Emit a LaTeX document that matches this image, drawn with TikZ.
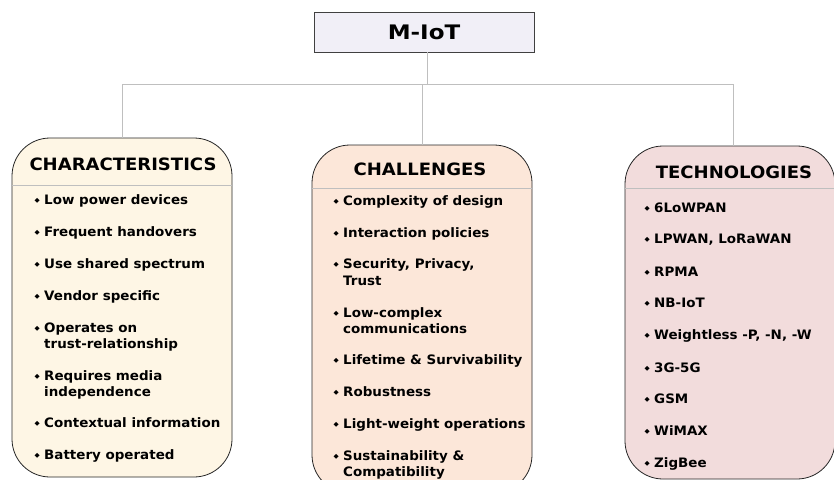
\documentclass[tikz,border=0pt]{standalone}
\usepackage{fontspec}
\setmainfont{DejaVu Sans}
\newfontfamily\itemfont{DejaVu Sans}[FakeStretch=1.035]
\newfontfamily\titlefont{DejaVu Sans}[FakeStretch=1.06]
\newfontfamily\rootfont{DejaVu Sans}[FakeStretch=1.15]
\definecolor{lavfill}{HTML}{F1EFF7}
\definecolor{charfill}{HTML}{FEF6E5}
\definecolor{chalfill}{HTML}{FCE7D9}
\definecolor{techfill}{HTML}{F2DCDC}
\definecolor{linegray}{HTML}{BFBFBF}
\definecolor{edgegray}{HTML}{404040}
\newcommand{\bul}{\llap{\raisebox{1.2pt}{\fontsize{6.5}{7}\selectfont ◆}\hspace{4.5pt}}}
\tikzset{
  rootbox/.style={draw=edgegray, line width=0.9pt, fill=lavfill, minimum width=220pt, minimum height=40pt, inner sep=0pt, font=\rootfont\fontsize{20}{24}\selectfont\bfseries},
  catbox/.style={draw=black!85, line width=0.8pt, rounded corners=38pt, inner sep=0pt},
  cattitle/.style={font=\titlefont\fontsize{17}{20}\selectfont\bfseries, inner sep=0pt},
  itm/.style={anchor=base west, font=\itemfont\fontsize{13}{15}\selectfont\bfseries, inner sep=0pt},
  conn/.style={draw=linegray, line width=0.9pt},
  sep/.style={draw=linegray, line width=1pt}
}
\begin{document}
\begin{tikzpicture}[x=1pt,y=-1pt]
\useasboundingbox (0,0) rectangle (834,479);
\clip (0,0) rectangle (834,479);
\fill[white] (0,0) rectangle (834,479);

% root
\node[rootbox] (root) at (424,32) {M-IoT};

% category boxes
\node[catbox, fill=charfill, minimum width=220pt, minimum height=339pt] (char) at (122,307.5) {};
\node[catbox, fill=chalfill, minimum width=220pt, minimum height=348pt] (chal) at (422,319) {};
\node[catbox, fill=techfill, minimum width=210pt, minimum height=333pt] (tech) at (730,312.5) {};

% connectors
\coordinate (jt) at (427.5,84);
\coordinate (jl) at (122,84);
\coordinate (jr) at (733,84);
\draw[conn] (root.south -| jt) -- (jt);
\draw[conn] (char.north) -- (jl) -- (jr) -- (jr |- tech.north);
\draw[conn] (chal.north) -- (chal.north |- jt);

% separators
\draw[sep] (char.west |- 0,185) -- (char.east |- 0,185);
\draw[sep] (chal.west |- 0,188) -- (chal.east |- 0,188);
\draw[sep] (tech.west |- 0,188.5) -- (tech.east |- 0,188.5);

% titles
\node[cattitle] (chart) at (123,164) {CHARACTERISTICS};
\node[cattitle] (chalt) at (420,169) {CHALLENGES};
\node[cattitle] (techt) at (734,172) {TECHNOLOGIES};

% characteristics items
\node[itm] (c1) at (44,204) {\bul Low power devices};
\node[itm] (c2) at (44,236) {\bul Frequent handovers};
\node[itm] (c3) at (44,268) {\bul Use shared spectrum};
\node[itm] (c4) at (44,300) {\bul Vendor specific};
\node[itm] (c5) at (44,332) {\bul Operates on};
\node[itm] (c5b) at (44,348) {trust-relationship};
\node[itm] (c6) at (44,380) {\bul Requires media};
\node[itm] (c6b) at (44,396) {independence};
\node[itm] (c7) at (44,427) {\bul Contextual information};
\node[itm] (c8) at (44,459) {\bul Battery operated};

% challenges items
\node[itm] (h1) at (343,205) {\bul Complexity of design};
\node[itm] (h2) at (343,237) {\bul Interaction policies};
\node[itm] (h3) at (343,268) {\bul Security, Privacy,};
\node[itm] (h3b) at (343,285) {Trust};
\node[itm] (h4) at (343,317) {\bul Low-complex};
\node[itm] (h4b) at (343,333) {communications};
\node[itm] (h5) at (343,364) {\bul Lifetime \& Survivability};
\node[itm] (h6) at (343,396) {\bul Robustness};
\node[itm] (h7) at (343,428) {\bul Light-weight operations};
\node[itm] (h8) at (343,460) {\bul Sustainability \&};
\node[itm] (h8b) at (343,476) {Compatibility};

% technologies items
\node[itm] (t1) at (654,212) {\bul 6LoWPAN};
\node[itm] (t2) at (654,243) {\bul LPWAN, LoRaWAN};
\node[itm] (t3) at (654,276) {\bul RPMA};
\node[itm] (t4) at (654,307) {\bul NB-IoT};
\node[itm] (t5) at (654,339) {\bul Weightless -P, -N, -W};
\node[itm] (t6) at (654,372) {\bul 3G-5G};
\node[itm] (t7) at (654,403) {\bul GSM};
\node[itm] (t8) at (654,435) {\bul WiMAX};
\node[itm] (t9) at (654,467) {\bul ZigBee};
\end{tikzpicture}
\end{document}
